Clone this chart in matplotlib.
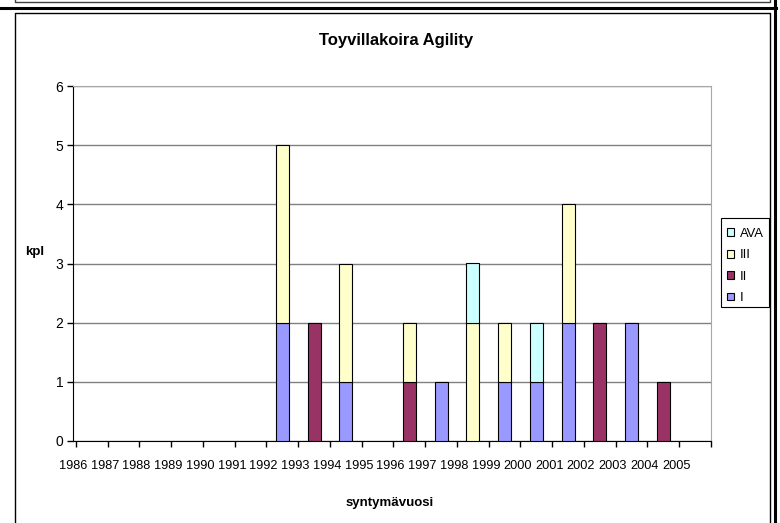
import numpy as np
import matplotlib
matplotlib.use('Agg')
import matplotlib.pyplot as plt
from matplotlib.lines import Line2D
from matplotlib.patches import Rectangle

plt.rcParams['font.family'] = ['Liberation Sans', 'DejaVu Sans']

years = [str(y) for y in range(1986, 2006)]
# counts per birth year, stacked bottom -> top: I, II, III, AVA
val_I   = [0, 0, 0, 0, 0, 0, 2, 0, 1, 0, 0, 1, 0, 1, 1, 2, 0, 2, 0, 0]
val_II  = [0, 0, 0, 0, 0, 0, 0, 2, 0, 0, 1, 0, 0, 0, 0, 0, 2, 0, 1, 0]
val_III = [0, 0, 0, 0, 0, 0, 3, 0, 2, 0, 1, 0, 2, 1, 0, 2, 0, 0, 0, 0]
val_AVA = [0, 0, 0, 0, 0, 0, 0, 0, 0, 0, 0, 0, 1, 0, 1, 0, 0, 0, 0, 0]
series = [('I', val_I, '#9999FF'), ('II', val_II, '#993366'),
          ('III', val_III, '#FFFFCC'), ('AVA', val_AVA, '#CCFFFF')]

W, H = 780, 523
fig = plt.figure(figsize=(W / 100, H / 100), dpi=100)

def fx(x):
    return x / W
def fy(y):
    return 1 - y / H

ax = fig.add_axes([fx(73), fy(441), fx(711) - fx(73), fy(86) - fy(441)])

pos = np.arange(len(years)) + 0.5
bottom = np.zeros(len(years))
handles = []
for name, vals, col in series:
    vals = np.array(vals, dtype=float)
    nz = vals > 0  # excel draws nothing for empty segments
    b = ax.bar(pos[nz], vals[nz], width=0.41, bottom=bottom[nz], color=col,
               edgecolor='black', linewidth=0.8, label=name, zorder=3)
    handles.append(b)
    bottom += vals

ax.set_xlim(0, len(years))
ax.set_ylim(0, 6)
ax.set_yticks(range(7))
ax.yaxis.grid(True, color='#808080', linewidth=1, zorder=0)
ax.set_xticks(np.arange(len(years) + 1))
ax.set_xticklabels([])
ax.set_xticks(np.arange(len(years)) - 0.09, labels=years, minor=True)
ax.tick_params(axis='x', which='major', direction='out', length=4, width=1)
ax.tick_params(axis='x', which='minor', length=0, pad=14, labelsize=9.2)
ax.tick_params(axis='y', direction='out', length=4, width=1, pad=3, labelsize=10)
for s in ['left', 'bottom']:
    ax.spines[s].set_color('black')
for s in ['top', 'right']:
    ax.spines[s].set_color('#A8A8A8')
ax.set_axisbelow(True)

fig.text(fx(396), fy(40), 'Toyvillakoira Agility', ha='center', va='center',
         fontsize=12, fontweight='bold')
fig.text(fx(390), fy(503), 'syntymävuosi', ha='center', va='center',
         fontsize=9.5, fontweight='bold')
fig.text(fx(35), fy(252), 'kpl', ha='center', va='center',
         fontsize=9.5, fontweight='bold')

# legend box drawn separately so the entries can sit a bit lower, like excel
fig.add_artist(Rectangle((fx(721), fy(307)), fx(769) - fx(721), fy(218) - fy(307),
                         transform=fig.transFigure, facecolor='white',
                         edgecolor='black', linewidth=0.8))
leg = fig.legend(handles[::-1], [s[0] for s in series][::-1],
                 loc='upper left', bbox_to_anchor=(fx(721), fy(222)),
                 fontsize=9.4, frameon=False,
                 handlelength=0.55, handleheight=0.55,
                 handletextpad=0.45, labelspacing=0.72, borderpad=0.45,
                 borderaxespad=0)

# surrounding frames
def line(xs, ys, lw, c='black'):
    fig.add_artist(Line2D([fx(x) for x in xs], [fy(y) for y in ys],
                          linewidth=lw, color=c))

line([15, 15, 770, 770], [0, 2, 2, 0], 1, '#404040')
line([0, 776], [8, 8], 2.2)
line([775, 775], [0, H], 2.2)
line([15, 15, 770, 770], [H, 13, 13, H], 1)

fig.savefig('out.png', dpi=100)
